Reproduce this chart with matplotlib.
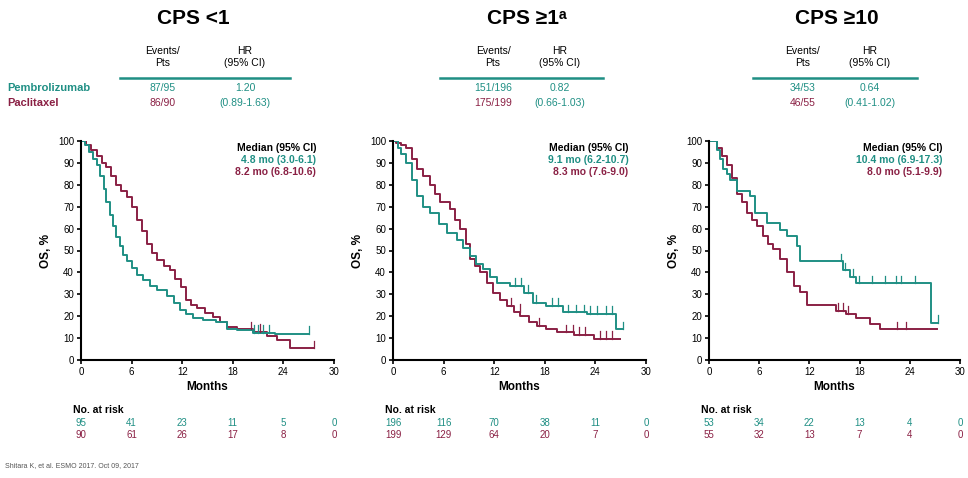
import matplotlib.pyplot as plt
import matplotlib.transforms as mtransforms
import numpy as np

TEAL = '#1f8f84'
MAROON = '#8a2044'

panel_titles = ['CPS <1', 'CPS ≥1ᵃ', 'CPS ≥10']
events_pembro = ['87/95', '151/196', '34/53']
events_pacli = ['86/90', '175/199', '46/55']
hr_values = ['1.20', '0.82', '0.64']
hr_ci = ['(0.89-1.63)', '(0.66-1.03)', '(0.41-1.02)']
median_pembro = ['4.8 mo (3.0-6.1)', '9.1 mo (6.2-10.7)', '10.4 mo (6.9-17.3)']
median_pacli = ['8.2 mo (6.8-10.6)', '8.3 mo (7.6-9.0)', '8.0 mo (5.1-9.9)']

risk_months = [0, 6, 12, 18, 24, 30]
risk_pembro = [[95, 41, 23, 11, 5, 0], [196, 116, 70, 38, 11, 0], [53, 34, 22, 13, 4, 0]]
risk_pacli = [[90, 61, 26, 17, 8, 0], [199, 129, 64, 20, 7, 0], [55, 32, 13, 7, 4, 0]]

# KM step curves (months, OS %)
km1_pem_t = [0, 0.5, 1.0, 1.4, 1.9, 2.3, 2.7, 3.0, 3.4, 3.8, 4.2, 4.6, 5.0, 5.4, 6.0, 6.6, 7.4, 8.2,
             9.0, 10.2, 11.0, 11.7, 12.5, 13.3, 14.5, 16.0, 17.3, 18.5, 20.4, 23.0, 27.0]
km1_pem_s = [100, 98, 95, 92, 89, 84, 78, 72, 66, 61, 56, 52, 48, 45, 42, 39, 36.5, 34,
             32, 29, 26, 23, 21, 19, 18.3, 17.5, 14, 13.5, 12.5, 12, 12]
km1_pac_t = [0, 0.6, 1.2, 1.9, 2.5, 3.0, 3.6, 4.2, 4.8, 5.4, 6.0, 6.6, 7.2, 7.8, 8.4, 9.0, 9.8,
             10.6, 11.2, 11.8, 12.5, 13.1, 13.7, 14.7, 15.7, 16.5, 17.3, 18.5, 20.4, 22.0, 23.2, 24.8, 27.6]
km1_pac_s = [100, 98, 96, 93, 90, 88, 84, 80, 77, 74.6, 70, 64, 59, 53, 49, 45.6, 43,
             41, 37, 33.5, 27.4, 25, 23.6, 21.5, 19.8, 17.5, 15.2, 14, 13, 11, 9, 5.4, 5.4]

km2_pem_t = [0, 0.6, 1.0, 1.6, 2.2, 2.8, 3.6, 4.4, 5.4, 6.4, 7.6, 8.3, 9.1, 9.9, 10.7, 11.5, 12.3,
             13.9, 15.5, 16.6, 18.2, 20.2, 23.0, 26.5, 27.3]
km2_pem_s = [100, 97, 94, 89.8, 82, 74.7, 70, 67, 62, 58, 55, 51, 47.3, 44, 41.4, 38, 35.3,
             33.8, 30.8, 26.2, 24.7, 21.7, 21, 14, 14]
km2_pac_t = [0, 0.4, 1.0, 1.6, 2.2, 2.8, 3.6, 4.4, 5.0, 5.6, 6.8, 7.4, 8.0, 8.6, 9.1, 9.7, 10.3,
             11.1, 11.9, 12.7, 13.5, 14.3, 15.1, 16.1, 17.1, 18.2, 19.4, 21.5, 23.8, 26.9]
km2_pac_s = [100, 99, 98, 96.6, 92, 87.3, 84, 79.8, 76, 72.1, 69, 64, 60, 53, 46, 43, 40,
             35, 30.7, 27.5, 24.7, 22, 20, 17.5, 15.6, 14, 12.6, 11.5, 9.6, 9.6]

km3_pem_t = [0, 0.9, 1.3, 1.7, 2.1, 2.5, 3.3, 4.9, 5.5, 6.9, 8.5, 9.3, 10.5, 10.9, 15.6, 16.0,
             16.8, 17.6, 26.5, 27.4]
km3_pem_s = [100, 96, 92, 87, 85, 82, 77, 74.8, 67, 62.5, 59.5, 56.4, 51.9, 45, 45, 41,
             38, 35, 17, 17]
km3_pac_t = [0, 0.9, 1.5, 2.1, 2.7, 3.3, 3.9, 4.5, 5.1, 5.7, 6.5, 7.1, 7.7, 8.5, 9.3, 10.1, 10.9,
             11.7, 15.2, 16.4, 17.6, 19.2, 20.4, 27.2]
km3_pac_s = [100, 97, 93, 89, 83, 76, 72, 67, 64, 61, 56.5, 53, 50.5, 46, 40, 34, 31,
             25, 22.4, 21, 19.4, 16.4, 14, 14]

# censored times
cens1_pem = [20.5, 21.0, 21.6, 22.3, 27.0]
cens1_pac = [20.2, 21.2, 27.6]
cens2_pem = [14.5, 15.2, 16.0, 17.0, 18.8, 19.6, 20.8, 21.7, 22.6, 23.4, 24.2, 25.2, 26.0, 27.3]
cens2_pac = [14.0, 15.0, 17.3, 20.5, 21.3, 22.0, 22.8, 24.5, 25.3, 26.0]
cens3_pem = [15.8, 16.2, 17.2, 17.9, 19.5, 21.0, 22.3, 23.0, 24.6, 27.4]
cens3_pac = [15.4, 16.0, 16.6, 22.5, 23.6]

curves = [
    (km1_pem_t, km1_pem_s, km1_pac_t, km1_pac_s, cens1_pem, cens1_pac),
    (km2_pem_t, km2_pem_s, km2_pac_t, km2_pac_s, cens2_pem, cens2_pac),
    (km3_pem_t, km3_pem_s, km3_pac_t, km3_pac_s, cens3_pem, cens3_pac),
]

plt.rcParams['font.family'] = ['Liberation Sans', 'DejaVu Sans']
fig = plt.figure(figsize=(9.68, 4.78), dpi=100)

# axes boxes in pixels (left, right)
px_boxes = [(81, 334), (393, 646), (709, 960)]
W, H = 968.0, 478.0
ybot, ytop = 360, 141


def step_value(ts, ss, t):
    i = np.searchsorted(ts, t, side='right') - 1
    return ss[max(i, 0)]


def draw_panel(k):
    l, r = px_boxes[k]
    ax = fig.add_axes([l / W, 1 - ybot / H, (r - l) / W, (ybot - ytop) / H])
    pt, ps, ct, cs, cpem, cpac = curves[k]
    ax.step(ct, cs, where='post', color=MAROON, lw=1.4)
    ax.step(pt, ps, where='post', color=TEAL, lw=1.4)
    for t in cpem:
        v = step_value(pt, ps, t)
        ax.plot([t, t], [v, v + 3.5], color=TEAL, lw=0.9)
    for t in cpac:
        v = step_value(ct, cs, t)
        ax.plot([t, t], [v, v + 3.5], color=MAROON, lw=0.9)

    ax.set_xlim(0, 30)
    ax.set_ylim(0, 100)
    ax.set_xticks(range(0, 31, 6))
    ax.set_yticks(range(0, 101, 10))
    ax.spines['top'].set_visible(False)
    ax.spines['right'].set_visible(False)
    ax.spines['left'].set_linewidth(1.5)
    ax.spines['bottom'].set_linewidth(1.5)
    ax.tick_params(direction='out', length=3, width=1.2, labelsize=7, pad=2)
    ax.set_xlabel('Months', fontsize=8.5, fontweight='bold', labelpad=3)
    ax.set_ylabel('OS, %', fontsize=8.5, fontweight='bold', labelpad=4)

    # median box
    ax.text(0.93, 0.99, 'Median (95% CI)', transform=ax.transAxes, ha='right', va='top',
            fontsize=7.5, fontweight='bold', color='black')
    ax.text(0.93, 0.935, median_pembro[k], transform=ax.transAxes, ha='right', va='top',
            fontsize=7.5, fontweight='bold', color=TEAL)
    ax.text(0.93, 0.88, median_pacli[k], transform=ax.transAxes, ha='right', va='top',
            fontsize=7.5, fontweight='bold', color=MAROON)

    # number at risk
    trans = mtransforms.blended_transform_factory(ax.transData, fig.transFigure)
    fig.text((l - 8) / W, 1 - 410 / H, 'No. at risk', fontsize=7.5, fontweight='bold',
             ha='left', va='center')
    for m, a, b in zip(risk_months, risk_pembro[k], risk_pacli[k]):
        ax.text(m, 1 - 423 / H, str(a), transform=trans, ha='center', va='center',
                fontsize=7, color=TEAL, clip_on=False)
        ax.text(m, 1 - 435 / H, str(b), transform=trans, ha='center', va='center',
                fontsize=7, color=MAROON, clip_on=False)
    return ax


for k in range(3):
    draw_panel(k)

# headers and tables above each panel
title_x = [193, 527, 837]
events_x = [163, 493, 803]
hr_x = [245, 560, 870]
line_span = [(120, 290), (440, 603), (753, 917)]
for k in range(3):
    fig.text(title_x[k] / W, 1 - 19 / H, panel_titles[k], ha='center', va='center',
             fontsize=15, fontweight='bold')
    fig.text(events_x[k] / W, 1 - 57 / H, 'Events/\nPts', ha='center', va='center',
             fontsize=7.5, linespacing=1.2)
    fig.text(hr_x[k] / W, 1 - 57 / H, 'HR\n(95% CI)', ha='center', va='center',
             fontsize=7.5, linespacing=1.2)
    x0, x1 = line_span[k]
    fig.add_artist(plt.Line2D([x0 / W, x1 / W], [1 - 78 / H, 1 - 78 / H],
                              color=TEAL, lw=1.8, transform=fig.transFigure))
    fig.text(events_x[k] / W, 1 - 88 / H, events_pembro[k], ha='center', va='center',
             fontsize=7.5, color=TEAL)
    fig.text(events_x[k] / W, 1 - 103 / H, events_pacli[k], ha='center', va='center',
             fontsize=7.5, color=MAROON)
    fig.text(hr_x[k] / W, 1 - 88 / H, hr_values[k], ha='center', va='center',
             fontsize=7.5, color=TEAL)
    fig.text(hr_x[k] / W, 1 - 103 / H, hr_ci[k], ha='center', va='center',
             fontsize=7.5, color=TEAL)

fig.text(7 / W, 1 - 88 / H, 'Pembrolizumab', ha='left', va='center', fontsize=8,
         fontweight='bold', color=TEAL)
fig.text(7 / W, 1 - 103 / H, 'Paclitaxel', ha='left', va='center', fontsize=8,
         fontweight='bold', color=MAROON)

fig.text(5 / W, 1 - 466 / H, 'Shitara K, et al. ESMO 2017. Oct 09, 2017', ha='left',
         va='center', fontsize=5, color='#555555')

fig.savefig('out.png', dpi=100)
